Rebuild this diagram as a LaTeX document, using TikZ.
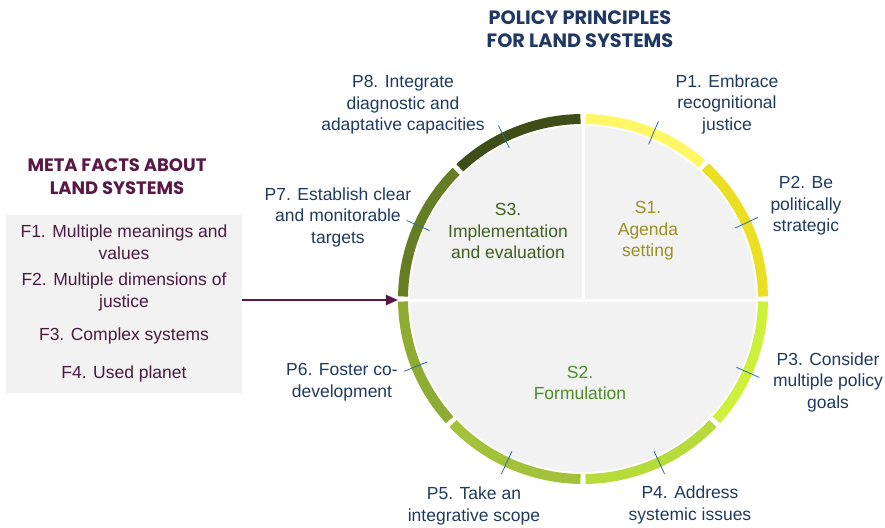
\documentclass[tikz,border=0pt]{standalone}
\usepackage{fontspec}
\setmainfont{Liberation Sans}
\newfontfamily\headfont{Poppins}
\usetikzlibrary{arrows.meta}
\definecolor{navy}{HTML}{1F3A60}
\definecolor{headnavy}{HTML}{1F3864}
\definecolor{plum}{HTML}{5A1846}
\definecolor{plumtext}{HTML}{4B1A40}
\definecolor{paper}{HTML}{F2F2F2}
\definecolor{tickblue}{HTML}{2E6E9E}
\definecolor{ringa}{HTML}{FFF766}
\definecolor{ringb}{HTML}{EADF23}
\definecolor{ringc}{HTML}{CDF03A}
\definecolor{ringd}{HTML}{B6DB3B}
\definecolor{ringe}{HTML}{A3C23A}
\definecolor{ringf}{HTML}{8FAC32}
\definecolor{ringg}{HTML}{657D23}
\definecolor{ringh}{HTML}{3E4E16}
\definecolor{stagea}{HTML}{9A9124}
\definecolor{stageb}{HTML}{4C8C2B}
\definecolor{stagec}{HTML}{3F6120}
\tikzset{
  ring/.style={line width=10pt},
  strich/.style={draw=tickblue, line width=0.8pt},
  plabel/.style={text=navy, align=center, inner sep=0pt,
    font=\fontsize{17.5}{21.5}\selectfont},
  flabel/.style={text=plumtext, align=center, inner sep=0pt,
    font=\fontsize{17.5}{21.5}\selectfont},
  slabel/.style={align=center, inner sep=0pt,
    font=\fontsize{17.5}{21.5}\selectfont},
  heading/.style={align=center, inner sep=0pt,
    font=\headfont\bfseries\fontsize{18}{23}\selectfont}
}
\begin{document}
\begin{tikzpicture}[x=1pt,y=1pt]
        \useasboundingbox (-583,-228) rectangle (302,299);
        % Kreis
        \fill [paper] (0,0) circle (173);
        \draw [white, line width=3pt] (-185,-1) -- (185,-1);
        \draw [white, line width=3pt] (0,-1) -- (0,185);
        % Ring
        \draw [ring, ringa] (89.2:180) arc[start angle=89.2, end angle=48.8, radius=180];
        \draw [ring, ringb] (47.2:180) arc[start angle=47.2, end angle=0.8, radius=180];
        \draw [ring, ringc] (-0.8:180) arc[start angle=-0.8, end angle=-42.2, radius=180];
        \draw [ring, ringd] (-43.8:180) arc[start angle=-43.8, end angle=-89.2, radius=180];
        \draw [ring, ringe] (-90.8:180) arc[start angle=-90.8, end angle=-136.2, radius=180];
        \draw [ring, ringf] (-137.8:180) arc[start angle=-137.8, end angle=-179.2, radius=180];
        \draw [ring, ringg] (179.2:180) arc[start angle=179.2, end angle=134.8, radius=180];
        \draw [ring, ringh] (133.2:180) arc[start angle=133.2, end angle=90.8, radius=180];
        % Striche
        \draw [strich] (67:168) -- (67:193);
        \draw [strich] (25:168) -- (25:193);
        \draw [strich] (-24:168) -- (-24:193);
        \draw [strich] (-65:168) -- (-65:193);
        \draw [strich] (-115:168) -- (-115:193);
        \draw [strich] (-158:168) -- (-158:193);
        \draw [strich] (156:168) -- (156:193);
        \draw [strich] (116:168) -- (116:193);
        % Phasen
        \node (s1) [slabel, text=stagea] at (65,68) {S1.\\Agenda\\setting};
        \node (s2) [slabel, text=stageb] at (-3,-84) {S2.\\Formulation};
        \node (s3) [slabel, text=stagec] at (-75,68) {S3.\\Implementation\\and evaluation};
        % Prinzipien
        \node (head) [heading, text=headnavy, font=\headfont\bfseries\fontsize{19.3}{23}\selectfont] at (-3,270) {POLICY PRINCIPLES\\FOR LAND SYSTEMS};
        \node (p1) [plabel] at (144,195) {P1. Embrace\\recognitional\\justice};
        \node (p2) [plabel] at (223,93) {P2. Be\\politically\\strategic};
        \node (p3) [plabel] at (245,-83) {P3. Consider\\multiple policy\\goals};
        \node (p4) [plabel] at (107,-206) {P4. Address\\systemic issues};
        \node (p5) [plabel] at (-109,-207) {P5. Take an\\integrative scope};
        \node (p6) [plabel] at (-241,-83) {P6. Foster co-\\development};
        \node (p7) [plabel] at (-245,82) {P7. Establish clear\\and monitorable\\targets};
        \node (p8) [plabel] at (-180,194) {P8. Integrate\\diagnostic and\\adaptative capacities};
        % Fakten
        \node (meta) [heading, text=plum] at (-466,122) {META FACTS ABOUT\\LAND SYSTEMS};
        \node (facts) [fill=paper, minimum width=236, minimum height=178, inner sep=0pt] at (-459,-5) {};
        \node (f1) [flabel] at (-459,57) {F1. Multiple meanings and\\values};
        \node (f2) [flabel] at (-459,7) {F2. Multiple dimensions of\\justice};
        \node (f3) [flabel] at (-459,-37) {F3. Complex systems};
        \node (f4) [flabel] at (-459,-75) {F4. Used planet};
        % Pfeil
        \coordinate (ziel) at (-185,-1);
        \draw [plum, line width=2pt, -{Triangle[length=12pt,width=10pt]}] (facts.east |- ziel) -- (ziel);
\end{tikzpicture}
\end{document}
